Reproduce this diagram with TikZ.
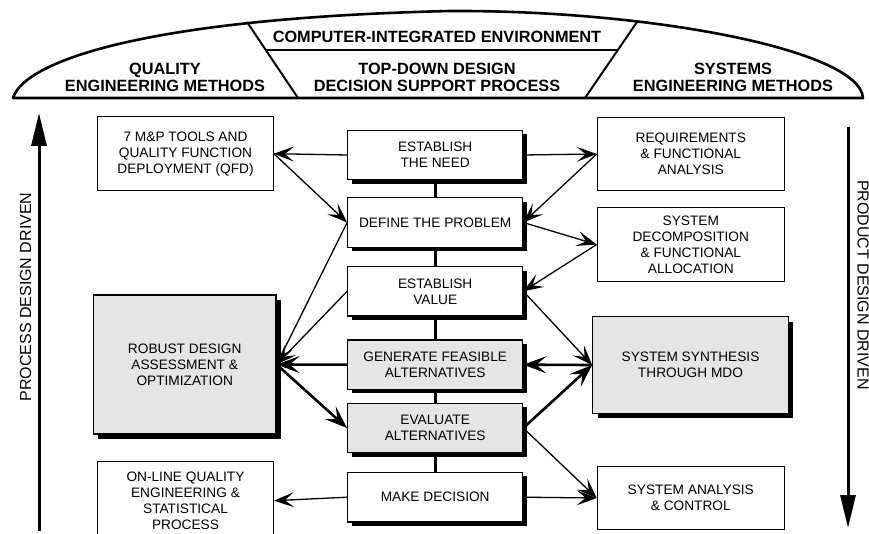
\documentclass[tikz,border=0pt]{standalone}
\usepackage{fontspec}
\setmainfont{Liberation Sans}
\usetikzlibrary{arrows.meta,shadows}
\begin{document}
\begin{tikzpicture}[x=1pt,y=-1pt,
  box/.style={draw,line width=1.2pt,fill=white,align=center,inner sep=0pt,
    font=\fontsize{13.7}{16}\selectfont},
  sbox/.style={box,drop shadow={shadow xshift=4pt,shadow yshift=-4pt,fill=black,opacity=1}},
  bigbox/.style={box,fill=gray!20,drop shadow={shadow xshift=5pt,shadow yshift=-5pt,fill=black,opacity=1}},
  cbox/.style={sbox,minimum width=175pt,minimum height=49.5pt},
  head/.style={align=center,inner sep=0pt,font=\fontsize{16.3}{16.5}\selectfont\bfseries},
  side/.style={inner sep=0pt,font=\fontsize{16}{19}\selectfont},
  thinarr/.style={line width=1.3pt,-{Stealth[length=20pt 0 0,width=15pt 0 0,inset=9pt 0 0]}},
  thickarr/.style={line width=2.6pt,-{Stealth[length=23pt 0 0,width=17pt 0 0,inset=10pt 0 0]}},
  link/.style={line width=3pt},
  bigarr/.style={line width=3pt,-{Triangle[length=33pt 0 0,width=15pt 0 0]}}
]
\useasboundingbox (0,0) rectangle (869,534);
\clip (0,0) rectangle (869,534);

% banner
\draw[line width=2.6pt,line join=round] (13,98) .. controls (25,60) and (150,18) .. (450,11)
  .. controls (650,10) and (860,50) .. (863,98) -- cycle;
\draw[line width=2pt] (247,22) -- (298,98);
\draw[line width=2pt] (637,22) -- (585,98);
\draw[line width=2pt] (265.8,50) -- (617.8,50);
\node[head] (cie) at (437,36.5) {COMPUTER-INTEGRATED ENVIRONMENT};
\node[head] (tdd) at (437,77.5) {TOP-DOWN DESIGN\\DECISION SUPPORT PROCESS};
\node[head] (qem) at (165,77.5) {QUALITY\\ENGINEERING METHODS};
\node[head] (sem) at (733,77.5) {SYSTEMS\\ENGINEERING METHODS};

% center column
\node[cbox] (need) at (435.2,155) {ESTABLISH\\THE NEED};
\node[cbox] (define) at (435.2,222.5) {DEFINE THE PROBLEM};
\node[cbox] (value) at (435.2,291.3) {ESTABLISH\\VALUE};
\node[cbox,fill=gray!20] (gen) at (435.2,364.7) {GENERATE FEASIBLE\\ALTERNATIVES};
\node[cbox,fill=gray!20] (eval) at (435.2,428) {EVALUATE\\ALTERNATIVES};
\node[cbox] (decision) at (435.2,497.2) {MAKE DECISION};

% left column
\node[box,minimum width=175.6pt,minimum height=74pt] (qfd) at (185.5,153.7)
  {7 M\&P TOOLS AND\\QUALITY FUNCTION\\DEPLOYMENT (QFD)};
\node[bigbox,minimum width=182.7pt,minimum height=139pt] (robust) at (184.7,364.5)
  {ROBUST DESIGN\\ASSESSMENT \&\\OPTIMIZATION};
\node[box,minimum width=175.6pt,minimum height=78pt] (online) at (185.5,500.7)
  {ON-LINE QUALITY\\ENGINEERING \&\\STATISTICAL\\PROCESS};

% right column
\node[box,minimum width=187pt,minimum height=73.4pt] (req) at (690.8,154)
  {REQUIREMENTS\\\& FUNCTIONAL\\ANALYSIS};
\node[box,minimum width=187pt,minimum height=74.4pt] (decomp) at (690.8,244.5)
  {SYSTEM\\DECOMPOSITION\\\& FUNCTIONAL\\ALLOCATION};
\node[bigbox,minimum width=195.6pt,minimum height=96.6pt] (synth) at (690.5,365)
  {SYSTEM SYNTHESIS\\THROUGH MDO};
\node[box,minimum width=187pt,minimum height=62.6pt] (analysis) at (690.8,498)
  {SYSTEM ANALYSIS\\\& CONTROL};

% vertical links
\draw[link] (need.south) -- (define.north);
\draw[link] (define.south) -- (value.north);
\draw[link] (value.south) -- (gen.north);
\draw[link] (gen.south) -- (eval.north);
\draw[link] (eval.south) -- (decision.north);

% arrows
\draw[thinarr] (need.west) -- (qfd.east);
\draw[thinarr] (need.east) -- (req.west);
\draw[thinarr] (qfd.east) -- (define.west);
\draw[thinarr] (req.west) -- (define.east);
\draw[thinarr] (define.east) -- (decomp.west);
\draw[thinarr] (decomp.west) -- (value.east);
\draw[thinarr] (define.west) -- (robust.east);
\draw[thinarr] (value.west) -- (robust.east);
\draw[thickarr] (gen.west) -- (robust.east);
\draw[thickarr] (robust.east) -- (eval.west);
\draw[thinarr] (decision.west) -- (online.east);
\draw[thinarr] (decision.east) -- (analysis.west);
\draw[thinarr] (value.east) -- (synth.west);
\draw[thickarr] (synth.west) -- (gen.east);
\draw[thickarr] (eval.east) -- (synth.west);
\draw[thinarr] (eval.east) -- (analysis.west);

% side arrows
\coordinate (pl1) at (39,531);
\coordinate (pl2) at (39,113);
\draw[bigarr] (pl1) -- (pl2);
\node[side,rotate=90] (pdd) at (25.5,297) {PROCESS DESIGN DRIVEN};
\coordinate (pr1) at (848,127);
\coordinate (pr2) at (848,528);
\draw[bigarr] (pr1) -- (pr2);
\node[side,rotate=-90] (prd) at (863,285) {PRODUCT DESIGN DRIVEN};
\end{tikzpicture}
\end{document}
